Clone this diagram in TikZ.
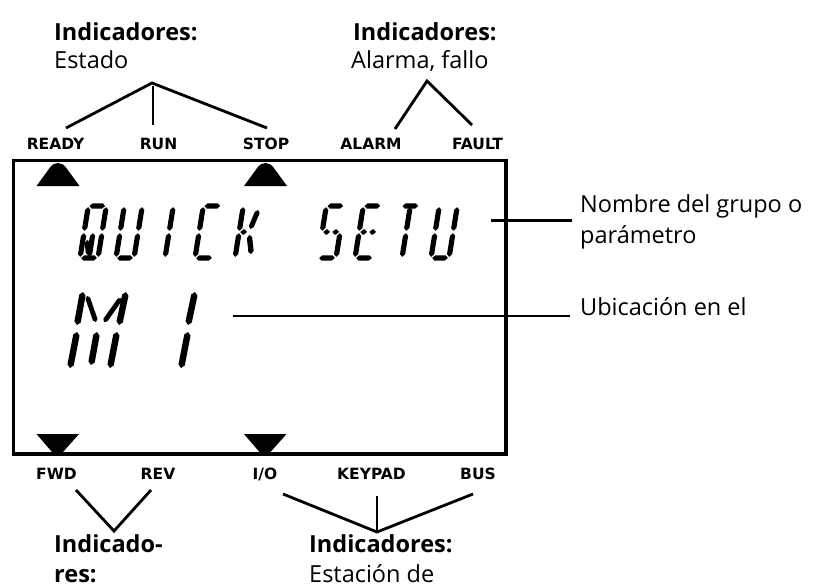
\documentclass[tikz,border=0pt]{standalone}
\usepackage{fontspec}
\setmainfont{Open Sans}
\newfontfamily\lblfont{DejaVu Sans}
\usetikzlibrary{calc}
% hexagonal LCD segment: #1 half width, #2 and #3 tips
\newcommand\seg[3]{\fill (#2) -- ($(#2)!#1!(#3)!#1!90:(#3)$) -- ($(#3)!#1!(#2)!#1!-90:(#2)$) -- (#3) -- ($(#3)!#1!(#2)!#1!90:(#2)$) -- ($(#2)!#1!(#3)!#1!-90:(#3)$) -- cycle;}
\def\hw{2.6pt}
\newcommand\sA{\seg{\hw}{1.2,-52}{16.8,-52}}
\newcommand\sB{\seg{\hw}{18,-50.8}{18,-27.2}}
\newcommand\sC{\seg{\hw}{18,-24.8}{18,-1.2}}
\newcommand\sD{\seg{\hw}{1.2,0}{16.8,0}}
\newcommand\sE{\seg{\hw}{0,-24.8}{0,-1.2}}
\newcommand\sF{\seg{\hw}{0,-50.8}{0,-27.2}}
\newcommand\sGa{\seg{\hw}{1.2,-26}{7.8,-26}}
\newcommand\sGb{\seg{\hw}{10.2,-26}{16.8,-26}}
\newcommand\sI{\seg{\hw}{9,-50.8}{9,-27.2}}
\newcommand\sL{\seg{\hw}{9,-24.8}{9,-1.2}}
\newcommand\sJ{\seg{\hw}{15.6,-48}{10.6,-29}}
\newcommand\sM{\seg{\hw}{10.6,-23}{15.6,-4}}
\newcommand\sV{\seg{\hw}{4.2,-18}{8.2,-3}}
\begin{document}
\begin{tikzpicture}[x=1pt,y=-1pt,
  txt/.style={anchor=base west, inner sep=0, font=\fontsize{23.5}{28}\selectfont},
  btxt/.style={anchor=base west, inner sep=0, font=\fontsize{23.5}{28}\selectfont\bfseries},
  lbl/.style={anchor=base, inner sep=0, font=\lblfont\fontsize{15.5}{16}\selectfont\bfseries},
  fork/.style={line width=2.8pt},
  lead/.style={line width=2.8pt},
  lcdchar/.style={xslant=0.16}]
\useasboundingbox (0,0) rectangle (818,584);

% display frame
\node[draw, line width=3.4pt, minimum width=492.5pt, minimum height=293.5pt, inner sep=0] (lcd) at (259.75,307.25) {};

% indicator triangles
\fill (36.5,186) -- (50,167.5) .. controls (54.5,161.5) and (61.5,161.5) .. (66,167.5) -- (79.5,186) -- cycle;
\fill (244,186) -- (257.5,167.5) .. controls (262,161.5) and (269,161.5) .. (273.5,167.5) -- (287,186) -- cycle;
\fill (36.5,434) -- (79,434) -- (63,452) .. controls (60,455.5) and (55,455.5) .. (52,452) -- cycle;
\fill (244,434) -- (286.5,434) -- (270.5,452) .. controls (267.5,455.5) and (262.5,455.5) .. (259.5,452) -- cycle;

% top labels
\node[lbl] (ready) at (55.5,149) {READY};
\node[lbl] (run) at (158.5,149) {RUN};
\node[lbl] (stop) at (266,149) {STOP};
\node[lbl] (alarm) at (371,149) {ALARM};
\node[lbl] (fault) at (477.5,149) {FAULT};
% bottom labels
\node[lbl] (fwd) at (56.5,479.5) {FWD};
\node[lbl] (rev) at (158,479.5) {REV};
\node[lbl] (io) at (265,479.5) {I/O};
\node[lbl] (keypad) at (371.5,479.5) {KEYPAD};
\node[lbl] (bus) at (478,479.5) {BUS};

% captions
\node[btxt] (c1a) at (54,40) {Indicadores:};
\node[txt] (c1b) at (54,68) {Estado};
\node[btxt] (c2a) at (353,40) {Indicadores:};
\node[txt] (c2b) at (351,68) {Alarma, fallo};
\node[txt] (c3a) at (580,212) {Nombre del grupo o};
\node[txt] (c3b) at (580,243) {parámetro};
\node[txt] (c4) at (580,315) {Ubicación en el};
\node[btxt] (c5a) at (54,552) {Indicado-};
\node[btxt] (c5b) at (54,582) {res:};
\node[btxt] (c6a) at (309,552) {Indicadores:};
\node[txt] (c6b) at (309,582) {Estación de};

% fork connectors
\coordinate (f1) at (152,83);
\coordinate (f1r) at (66,128);
\coordinate (f1u) at (153,86);
\coordinate (f1n) at (153,125);
\coordinate (f1s) at (267,128);
\draw[fork] (f1r) -- (f1) -- (f1s);
\draw[fork] (f1u) -- (f1n);
\coordinate (f2) at (427,81);
\coordinate (f2a) at (395,129);
\coordinate (f2f) at (472,125);
\draw[fork] (f2a) -- (f2) -- (f2f);
\coordinate (f3) at (114,531);
\coordinate (f3a) at (76,490);
\coordinate (f3b) at (151,490);
\draw[fork] (f3a) -- (f3) -- (f3b);
\coordinate (f4) at (377,532);
\coordinate (f4a) at (283,494);
\coordinate (f4b) at (377,496);
\coordinate (f4c) at (473,494);
\draw[fork] (f4a) -- (f4) -- (f4c);
\draw[fork] (f4b) -- (f4);

% leader lines
\coordinate (l1a) at (491,220.5);
\coordinate (l1b) at (572,220.5);
\draw[lead] (l1a) -- (l1b);
\coordinate (l2a) at (233,316);
\coordinate (l2b) at (570,316);
\draw[lead] (l2a) -- (l2b);

% QUICK SETU
\begin{scope}[shift={(80,258)},lcdchar] \sA\sB\sC\sD\sE\sF\sL\sV \end{scope}
\begin{scope}[shift={(116,258)},lcdchar] \sB\sC\sD\sE\sF \end{scope}
\begin{scope}[shift={(156,258)},lcdchar] \sI\sL \end{scope}
\begin{scope}[shift={(195,258)},lcdchar] \sA\sD\sE\sF \end{scope}
\begin{scope}[shift={(235,258)},lcdchar] \sE\sF\sGa\sJ\sM \end{scope}
\begin{scope}[shift={(318,258)},lcdchar] \sA\sF\sGa\sGb\sC\sD \end{scope}
\begin{scope}[shift={(355,258)},lcdchar] \sA\sF\sGa\sGb\sE\sD \end{scope}
\begin{scope}[shift={(393,258)},lcdchar] \sA\sI\sL \end{scope}
\begin{scope}[shift={(431,258)},lcdchar] \sB\sC\sD\sE\sF \end{scope}

% M 1
\seg{3.2pt}{83,292}{77,325}
\seg{3.2pt}{77,332}{70,368}
\seg{3.2pt}{97,332}{91,365}
\seg{3.2pt}{117,332}{110,368}
\seg{3.2pt}{126,292}{119,325}
\seg{2.4pt}{87,296}{96,322}
\seg{2.4pt}{121,298}{104,322}
\seg{3.2pt}{195,292}{188,325}
\seg{3.2pt}{188,332}{181,368}
\end{tikzpicture}
\end{document}
